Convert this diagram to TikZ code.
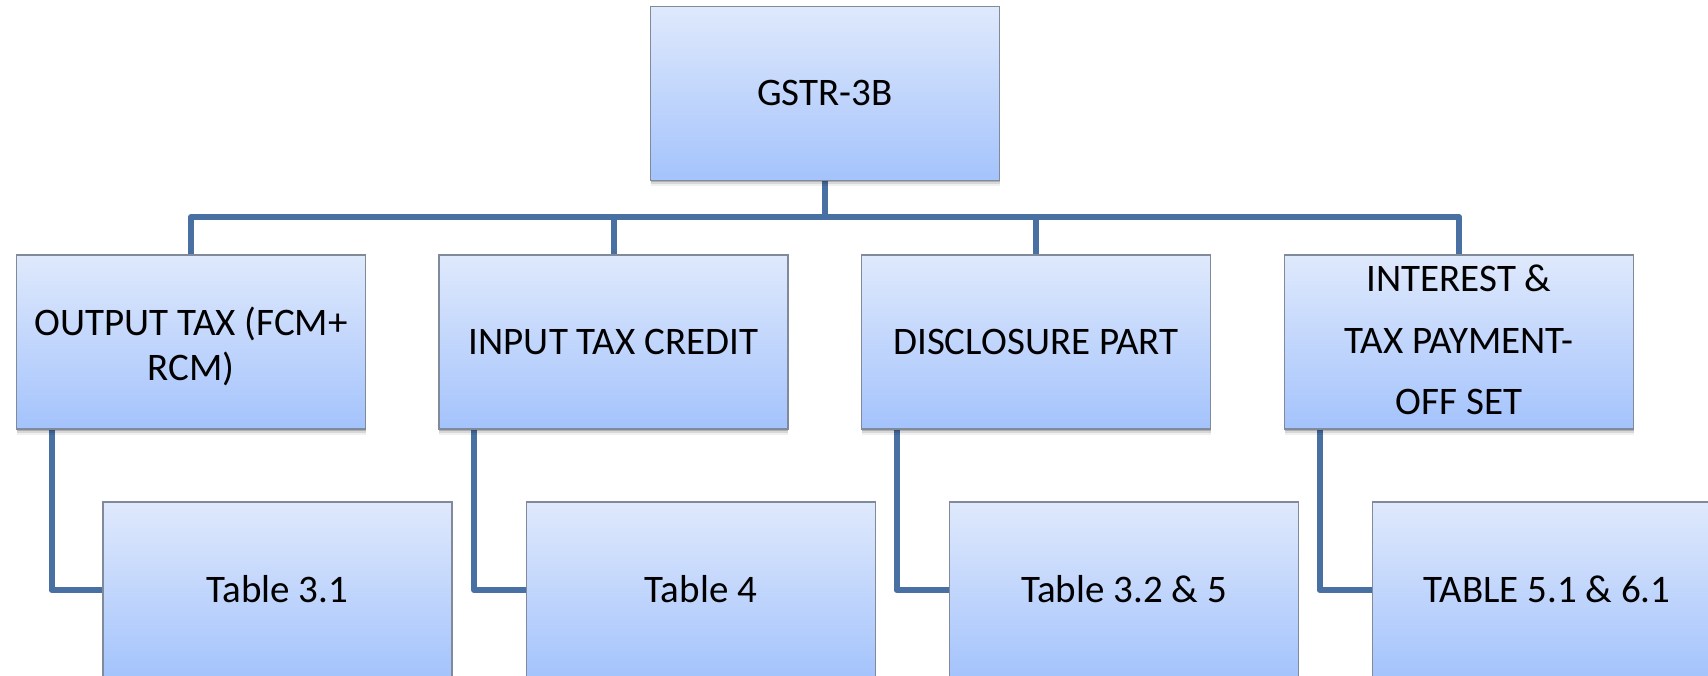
\documentclass[tikz,border=0pt]{standalone}
\usepackage{fontspec}
\setmainfont{Carlito}
\usetikzlibrary{shadows,backgrounds}
\definecolor{linkblue}{RGB}{72,112,162}
\definecolor{boxedge}{RGB}{128,138,155}
\definecolor{boxtop}{RGB}{223,233,252}
\definecolor{boxbot}{RGB}{164,195,252}

\begin{document}
\begin{tikzpicture}[x=1pt,y=-1pt,
  bigfont/.style={font=\fontsize{39}{47}\selectfont},
  box/.style={bigfont, draw=boxedge, line width=1.2pt,
    top color=boxtop, bottom color=boxbot,
    minimum width=349pt, minimum height=174pt,
    inner sep=0pt, outer sep=0pt, text height=25pt, text depth=0pt,
    drop shadow={shadow xshift=0pt, shadow yshift=-6pt, opacity=0.06, fill=black},
    drop shadow={shadow xshift=0pt, shadow yshift=-4pt, opacity=0.10, fill=black},
    drop shadow={shadow xshift=0pt, shadow yshift=-2pt, opacity=0.18, fill=black}},
  leaf/.style={box, minimum height=176pt},
  linetext/.style={bigfont, anchor=base, inner sep=0pt},
  link/.style={draw=linkblue, line width=6pt, line join=round}
]
\useasboundingbox (0,0) rectangle (1708,676);
\begin{scope}[on background layer]
  \fill[white] (0,0) rectangle (1708,676);
\end{scope}

% root
\node[box] (root) at (825,93.5) {GSTR-3B};

% second level
\node[box] (b1) at (191,342) {};
\node[box] (b2) at (613.5,342) {INPUT TAX CREDIT};
\node[box] (b3) at (1036,342) {DISCLOSURE PART};
\node[box] (b4) at (1459,342) {};

\node[linetext] (b1t1) at (191,335) {OUTPUT TAX (FCM+};
\node[linetext] (b1t2) at (191,380) {RCM)};
\node[linetext] (b4t1) at (1459,292) {INTEREST \&};
\node[linetext] (b4t2) at (1459,353) {TAX PAYMENT-};
\node[linetext] (b4t3) at (1459,414) {OFF SET};

% third level
\node[leaf] (c1) at (277.5,590) {Table 3.1};
\node[leaf] (c2) at (701,590) {Table 4};
\node[leaf] (c3) at (1124,590) {Table 3.2 \& 5};
\node[leaf] (c4) at (1547,590) {TABLE 5.1 \& 6.1};

% connectors
\coordinate (bus) at (0,217);
\begin{scope}[on background layer]
  \draw[link] (root.south) -- (root.south |- bus);
  \draw[link] (b1.north) -- (b1.north |- bus) -- (b4.north |- bus) -- (b4.north);
  \draw[link] (b2.north) -- (b2.north |- bus);
  \draw[link] (b3.north) -- (b3.north |- bus);
  \foreach \i in {1,2,3,4}{
    \draw[link] ([xshift=35pt]b\i.south west) |- (c\i.west);
  }
\end{scope}
\end{tikzpicture}
\end{document}
